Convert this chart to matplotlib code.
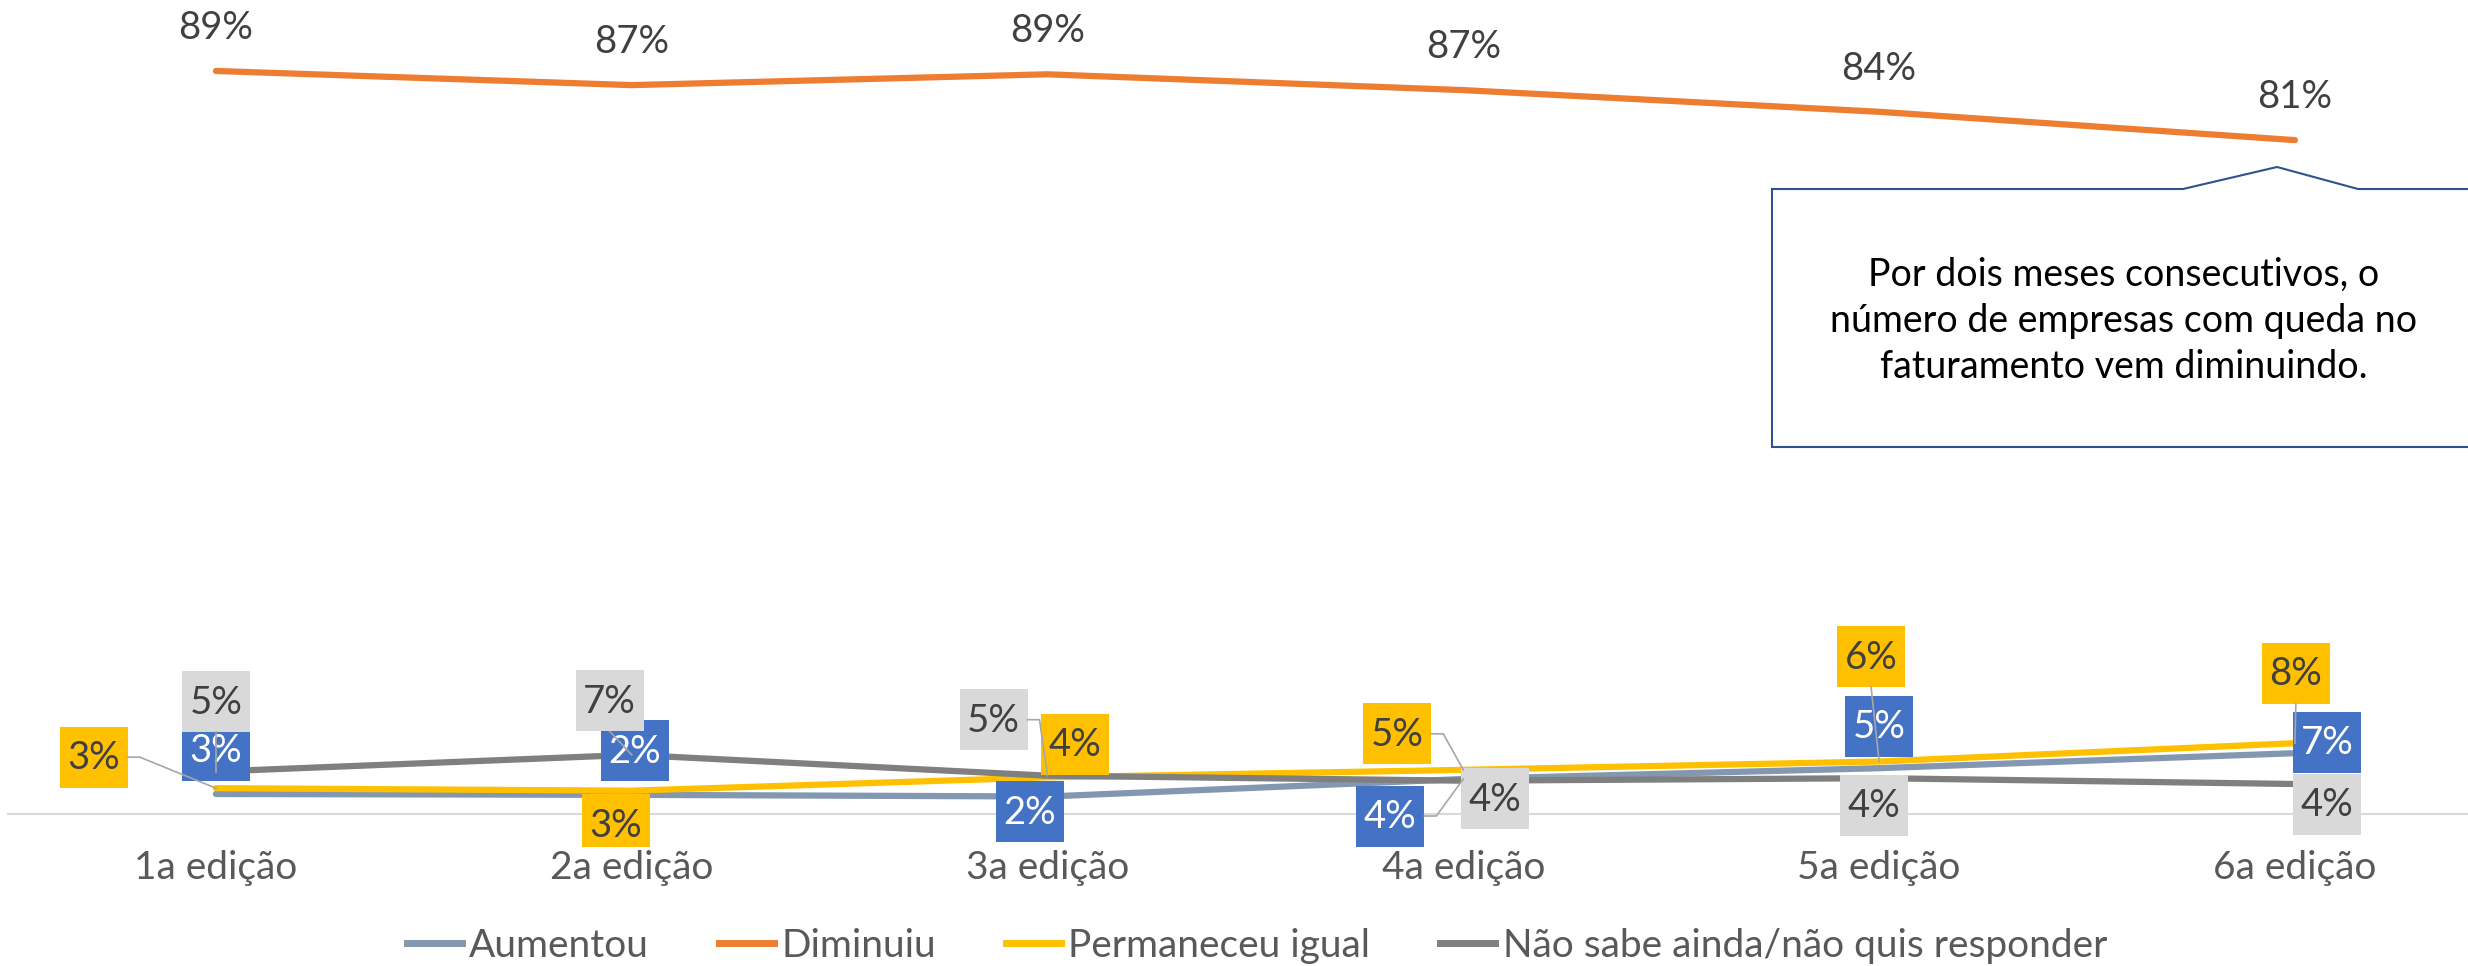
import matplotlib
matplotlib.use('Agg')
import matplotlib.pyplot as plt
from matplotlib import transforms
from matplotlib.patches import Rectangle, Polygon
from matplotlib.lines import Line2D

plt.rcParams['font.family'] = ['Lato', 'DejaVu Sans']

# ---------------- data ----------------
categories = ['1a edição', '2a edição', '3a edição', '4a edição', '5a edição', '6a edição']
series_names = ['Aumentou', 'Diminuiu', 'Permaneceu igual', 'Não sabe ainda/não quis responder']
aumentou = [2.4, 2.3, 2.1, 4.2, 5.5, 7.3]
diminuiu = [89.2, 87.5, 88.8, 86.9, 84.3, 80.9]
permaneceu = [3.1, 2.8, 4.4, 5.3, 6.3, 8.5]
nao_sabe = [5.1, 7.1, 4.6, 4.0, 4.3, 3.6]
aumentou_labels = ['3%', '2%', '2%', '4%', '5%', '7%']
diminuiu_labels = ['89%', '87%', '89%', '87%', '84%', '81%']
permaneceu_labels = ['3%', '3%', '4%', '5%', '6%', '8%']
nao_sabe_labels = ['5%', '7%', '5%', '4%', '4%', '4%']
callout_text = ('Por dois meses consecutivos, o\n'
                'número de empresas com queda no\n'
                'faturamento vem diminuindo.')

# ---------------- style ----------------
C_AUM = '#8497B0'
C_DIM = '#ED7D31'
C_PERM = '#FFC000'
C_NAO = '#7F7F7F'
BOX_AUM = '#4472C4'
BOX_PERM = '#FFC000'
BOX_NAO = '#D9D9D9'
TXT = '#404040'
FS = 28
FS_LBL = 27.5

# label offsets in pixels (dx, dy up) from each point
aum_off = [(0, 44), (3, 44), (-18, -15), (-73, -37), (0, 42), (32, 11)]
perm_off = [(-122, 31), (-16, -34), (27, 33), (-66, 36), (-8, 105), (1, 70)]
nao_off = [(0, 70), (-22, 54), (-54, 56), (32, -18), (-5, -27), (32, -20)]

W, H = 2468, 966
fig = plt.figure(figsize=(W / 100, H / 100), dpi=100)
ax = fig.add_axes([8 / W, 152 / H, 2460 / W, 814 / H])
ax.set_xlim(-0.5, -0.5 + 2460 / 415.8)
ax.set_ylim(0, 814 / 8.33)
ax.set_autoscale_on(False)

x = list(range(len(categories)))
line_kw = dict(lw=4.5, solid_capstyle='round', solid_joinstyle='round')
ax.plot(x, aumentou, color=C_AUM, zorder=2, **line_kw)
ax.plot(x, diminuiu, color=C_DIM, zorder=3, **line_kw)
ax.plot(x, permaneceu, color=C_PERM, zorder=4, **line_kw)
ax.plot(x, nao_sabe, color=C_NAO, zorder=5, **line_kw)

for s in ['left', 'right', 'top']:
    ax.spines[s].set_visible(False)
ax.spines['bottom'].set_color('#D9D9D9')
ax.spines['bottom'].set_linewidth(1.5)
ax.set_yticks([])
ax.set_xticks(x)
ax.set_xticklabels(categories)
ax.tick_params(axis='x', length=0, pad=26, labelsize=FS, labelcolor='#595959')

BW, BH = 68, 61

# data labels are clipped to the chart region above the category labels
clip_patch = Rectangle((0, (H - 847) / H), 1, 847 / H, transform=fig.transFigure,
                       facecolor='none', edgecolor='none')


def box_label(xi, v, text, dx, dy, fc, tc, z):
    base = transforms.ScaledTranslation(xi, v, ax.transData)
    t = transforms.Affine2D().translate(dx, dy) + base
    r = Rectangle((-BW / 2, -BH / 2), BW, BH, transform=t, facecolor=fc,
                  edgecolor='none', zorder=z)
    ax.add_artist(r)
    r.set_clip_path(clip_patch)
    tx = ax.text(0, -1, text, transform=t, ha='center', va='center', fontsize=FS_LBL,
                 color=tc, zorder=z + 0.1)
    tx.set_clip_path(clip_patch)
    # leader line
    x0, x1 = dx - BW / 2, dx + BW / 2
    y0, y1 = dy - BH / 2, dy + BH / 2
    ddx = max(x0 - 0, 0, 0 - x1)
    ddy = max(y0 - 0, 0, 0 - y1)
    if (ddx ** 2 + ddy ** 2) ** 0.5 > 18:
        if 0 > x1:
            xs, ys = [x1, x1 + 12, 0], [dy, dy, 0]
        elif 0 < x0:
            xs, ys = [x0, x0 - 12, 0], [dy, dy, 0]
        else:
            ys0 = y0 if dy > 0 else y1
            xs, ys = [dx, 0], [ys0, 0]
        ax.add_artist(Line2D(xs, ys, transform=base, color='#A6A6A6', lw=1.2,
                             zorder=30, clip_on=False))


for i in range(len(categories)):
    box_label(i, aumentou[i], aumentou_labels[i], *aum_off[i], BOX_AUM, 'white', 10)
for i in range(len(categories)):
    box_label(i, permaneceu[i], permaneceu_labels[i], *perm_off[i], BOX_PERM, TXT, 12)
for i in range(len(categories)):
    box_label(i, nao_sabe[i], nao_sabe_labels[i], *nao_off[i], BOX_NAO, TXT, 14)
for i in range(len(categories)):
    ax.annotate(diminuiu_labels[i], (i, diminuiu[i]), xytext=(0, 43),
                textcoords='offset pixels', ha='center', va='center',
                fontsize=FS_LBL, color=TXT, clip_on=False)

# legend
handles = [Line2D([0], [0], color=c, lw=5) for c in [C_AUM, C_DIM, C_PERM, C_NAO]]
leg = fig.legend(handles, series_names, ncol=4, loc='center',
                 bbox_to_anchor=(1257 / W, 20 / H), frameon=False, fontsize=FS,
                 handlelength=1.4, handletextpad=0.2, columnspacing=1.8,
                 labelcolor='#595959', borderpad=0, borderaxespad=0)

# callout
def fp(px, py):
    return (px / W, 1 - py / H)

pts = [fp(1772, 189), fp(2183, 189), fp(2277, 167), fp(2358, 189),
       fp(2485, 189), fp(2485, 447), fp(1772, 447)]
fig.add_artist(Polygon(pts, closed=True, transform=fig.transFigure,
                       facecolor='white', edgecolor='#2F528F', lw=1.5, zorder=40))
fig.text(2124 / W, 1 - 321 / H, callout_text, ha='center', va='center',
         fontsize=27, linespacing=1.35, color='black', multialignment='center',
         zorder=41)

fig.savefig('out.png', dpi=100)
